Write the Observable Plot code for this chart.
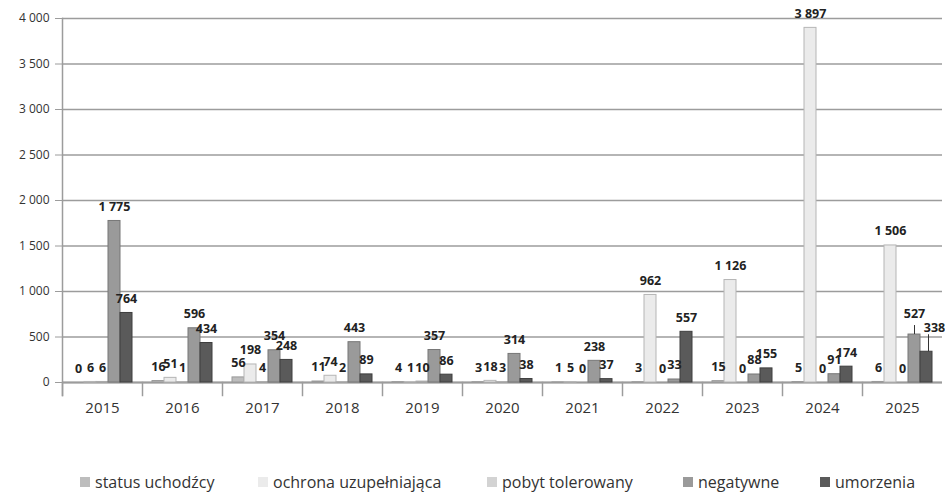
<!DOCTYPE html>
<html>
<head>
<meta charset="utf-8">
<script src="https://cdn.jsdelivr.net/npm/d3@7"></script>
<script src="https://cdn.jsdelivr.net/npm/@observablehq/plot@0.6"></script>
<style>
  body { margin: 0; background: #fff; font-family: "Open Sans", sans-serif; overflow: hidden; }
  #chart svg { display: block; overflow: visible; }
  #legend { position: relative; height: 63px; font-size: 16px; color: #333; }
  #legend .item { position: absolute; top: 41px; line-height: 22px; display: flex; align-items: center; white-space: nowrap; }
  #legend .sw { width: 10px; height: 10px; margin-right: 5px; display: inline-block; }
</style>
</head>
<body>
<div id="chart"></div>
<div id="legend"></div>
<script>
const years = ["2015","2016","2017","2018","2019","2020","2021","2022","2023","2024","2025"];
const seriesNames = ["status uchodźcy","ochrona uzupełniająca","pobyt tolerowany","negatywne","umorzenia"];
const statusUchodzcy = [0, 16, 56, 11, 4, 3, 1, 3, 15, 5, 6];
const ochronaUzupelniajaca = [6, 51, 198, 74, 1, 18, 5, 962, 1126, 3897, 1506];
const pobytTolerowany = [6, 1, 4, 2, 10, 3, 0, 0, 0, 0, 0];
const negatywne = [1775, 596, 354, 443, 357, 314, 238, 33, 88, 91, 527];
const umorzenia = [764, 434, 248, 89, 86, 38, 37, 557, 155, 174, 338];
const yTicks = [0, 500, 1000, 1500, 2000, 2500, 3000, 3500, 4000];
const colors = ["#bdbdbd", "#ebebeb", "#d3d3d3", "#9a9a9a", "#5a5a5a"];
const strokes = ["#9a9a9a", "#b5b5b5", "#aaaaaa", "#777777", "#3e3e3e"];

const seriesValues = [statusUchodzcy, ochronaUzupelniajaca, pobytTolerowany, negatywne, umorzenia];
const data = [];
years.forEach((y, i) => {
  seriesNames.forEach((s, j) => {
    data.push({year: y, series: s, value: seriesValues[j][i]});
  });
});

const fmt = v => d3.format(",")(v).replace(/,/g, " ");
// labels with leader lines (last year, last two series)
const isLead = d => d.year === "2025" && (d.series === "negatywne" || d.series === "umorzenia");
const plain = data.filter(d => !isLead(d));
const leadNeg = data.filter(d => isLead(d) && d.series === "negatywne");
const leadUmo = data.filter(d => isLead(d) && d.series === "umorzenia");
const labelStyle = {fx: "year", x: "series", y: "value", text: d => fmt(d.value),
  fontSize: 12.5, fontWeight: "bold", fill: "#222"};

const chart = Plot.plot({
  width: 945,
  height: 430,
  marginTop: 18,
  marginBottom: 48,
  marginLeft: 58,
  marginRight: 0,
  style: {fontFamily: "'Open Sans', sans-serif", color: "#333", background: "#fff"},
  fx: {domain: years, paddingInner: 0, paddingOuter: 0, label: null},
  x: {domain: seriesNames, paddingInner: 0, paddingOuter: 0.7, axis: null},
  y: {domain: [0, 4000], label: null},
  color: {domain: seriesNames, range: colors},
  marks: [
    Plot.gridY(yTicks, {stroke: "#9c9c9c", strokeOpacity: 1, strokeWidth: 1.6}),
    Plot.axisY(yTicks, {tickFormat: fmt, tickSize: 7, fontSize: 12, stroke: "#9c9c9c", label: null, tickPadding: 6}),
    Plot.frame({anchor: "left", facetAnchor: "left", stroke: "#9c9c9c", strokeWidth: 1.5, insetBottom: -13}),
    Plot.frame({anchor: "left", stroke: "#9c9c9c", strokeWidth: 1.5, insetTop: 364, insetBottom: -13}),
    Plot.ruleY([0], {stroke: "#9c9c9c", strokeWidth: 2}),
    Plot.barY(data, {fx: "year", x: "series", y: "value", fill: "series",
      stroke: (d) => strokes[seriesNames.indexOf(d.series)], strokeWidth: 1}),
    Plot.text(plain, {...labelStyle, dy: -14}),
    Plot.ruleX(leadNeg, {fx: "year", x: "series", y1: "value", y2: "value", insetTop: -9, stroke: "#333", strokeWidth: 1}),
    Plot.text(leadNeg, {...labelStyle, dy: -21}),
    Plot.ruleX(leadUmo, {fx: "year", x: "series", y1: "value", y2: "value", insetTop: -17, dx: 2, stroke: "#333", strokeWidth: 1}),
    Plot.text(leadUmo, {...labelStyle, dy: -24, dx: 8}),
    Plot.axisFx({anchor: "bottom", tickSize: 0, tickPadding: 20, fontSize: 15, label: null})
  ]
});
document.getElementById("chart").appendChild(chart);

const legendX = [80, 258, 487, 683, 820];
const legend = document.getElementById("legend");
seriesNames.forEach((s, i) => {
  const item = document.createElement("div");
  item.className = "item";
  item.style.left = legendX[i] + "px";
  const sw = document.createElement("span");
  sw.className = "sw";
  sw.style.background = colors[i];
  item.appendChild(sw);
  item.appendChild(document.createTextNode(s));
  legend.appendChild(item);
});
</script>
</body>
</html>
